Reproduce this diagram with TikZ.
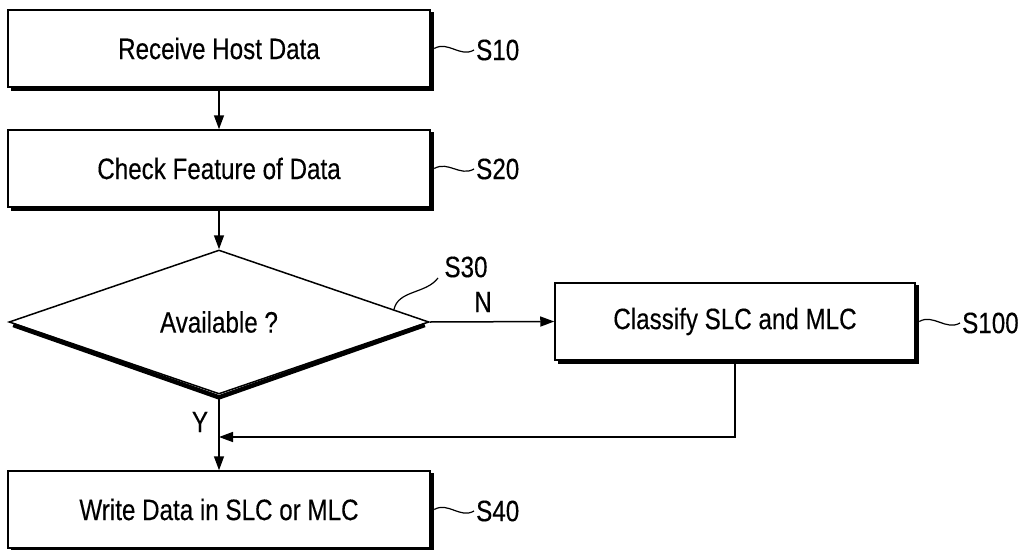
\documentclass[tikz,border=0pt]{standalone}
\usepackage{fontspec}
\setmainfont{Liberation Sans}[FakeStretch=0.82,FakeBold=0.3]
\usetikzlibrary{arrows.meta,shapes.geometric,calc}
\newcommand\boxshadow[1]{%
  \draw[shadowline] ([shift={(4pt,-1.6pt)}]#1.south west) -- ([shift={(1.6pt,-1.6pt)}]#1.south east) -- ([shift={(1.6pt,-3pt)}]#1.north east);}
\begin{document}
\begin{tikzpicture}[x=1pt,y=-1pt,
  every node/.style={font=\fontsize{29.5pt}{34pt}\selectfont},
  stepbox/.style={draw,line width=1.5pt,rectangle,inner sep=0pt,minimum height=77pt},
  decision/.style={draw,line width=1.5pt,diamond,inner sep=0pt,minimum width=420pt,minimum height=144pt,aspect=2.92},
  shadowline/.style={line width=3.5pt,line join=miter,line cap=butt},
  dshadow/.style={line width=4.5pt,line join=miter,line cap=butt},
  arr/.style={line width=1.5pt,-{Triangle[length=14pt,width=10pt]}},
  conn/.style={line width=1.5pt},
  squig/.style={line width=1.2pt},
  lab/.style={inner sep=0pt,anchor=west}]
\useasboundingbox (0,0) rectangle (1025,549);
\fill[white] (0,0) rectangle (1025,549);

\node[stepbox,minimum width=422pt] (b1) at (219,48.5) {Receive Host Data};
\node[stepbox,minimum width=422pt] (b2) at (219,168.5) {Check Feature of Data};
\node[decision] (d) at (219,322) {Available ?};
\node[stepbox,minimum width=360pt] (c) at (735,321.5) {Classify SLC and MLC};
\node[stepbox,minimum width=422pt] (b4) at (219,509.5) {Write Data in SLC or MLC};

\boxshadow{b1}
\boxshadow{b2}
\boxshadow{c}
\boxshadow{b4}
\draw[dshadow] ([shift={(5pt,-3pt)}]d.west) -- ([shift={(0pt,-2.6pt)}]d.south) -- ([shift={(-5pt,-3pt)}]d.east);

\draw[arr] (b1.south) -- (b2.north);
\draw[arr] (b2.south) -- (d.north);
\draw[arr] (d.east) -- (c.west);
\draw[arr] ([yshift=-3pt]d.south) -- (b4.north);
\coordinate (join) at (219,437);
\draw[arr] ([yshift=-3pt]c.south) |- (join);
\draw[conn] (c.south) -- ([yshift=-3pt]c.south);

\node (n) at (483,302) {N};
\node (y) at (200,422) {Y};

\node[lab] (l1) at (476,50) {S10};
\node[lab] (l2) at (476,169) {S20};
\node[lab] (l4) at (476,511) {S40};
\node[lab] (l5) at (962,323) {S100};
\node (l3) at (466,267) {S30};

\draw[squig] ([xshift=3.5pt]b1.east) .. controls +(14pt,8pt) and +(-14pt,-8pt) .. ([xshift=-2pt]l1.west);
\draw[squig] ([xshift=3.5pt]b2.east) .. controls +(14pt,8pt) and +(-14pt,-8pt) .. ([xshift=-2pt]l2.west);
\draw[squig] ([xshift=3.5pt]b4.east) .. controls +(14pt,8pt) and +(-14pt,-8pt) .. ([xshift=-2pt]l4.west);
\draw[squig] ([xshift=3.5pt]c.east) .. controls +(14pt,8pt) and +(-14pt,-8pt) .. ([xshift=-2pt]l5.west);
\coordinate (s30a) at ($(d.north)!0.83!(d.east)$);
\draw[squig] (s30a) .. controls (398,290) and (426,294) .. (438,278);
\end{tikzpicture}
\end{document}
